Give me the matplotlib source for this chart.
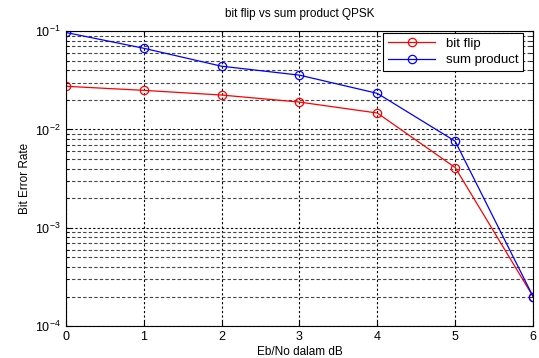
import matplotlib
matplotlib.use("Agg")
import matplotlib.pyplot as plt
from matplotlib.ticker import LogLocator

plt.rcParams['font.family'] = ['Liberation Sans', 'DejaVu Sans']
plt.rcParams['mathtext.fontset'] = 'custom'
plt.rcParams['mathtext.rm'] = 'Liberation Sans'

ebno = [0, 1, 2, 3, 4, 5, 6]
ber_bitflip = [0.0275, 0.025, 0.0224, 0.019, 0.0147, 0.0041, 0.0002]
ber_sumprod = [0.097, 0.067, 0.044, 0.0357, 0.0233, 0.0076, 0.0002]

fig = plt.figure(figsize=(5.39, 3.58), dpi=100)
ax = fig.add_axes([0.122, 0.089, 0.867, 0.824])

ax.semilogy(ebno, ber_bitflip, '-o', color='red', lw=0.9, ms=6,
            mfc='none', mew=0.9, label='bit flip')
ax.semilogy(ebno, ber_sumprod, '-o', color='blue', lw=0.9, ms=6,
            mfc='none', mew=0.9, label='sum product')

ax.set_xlim(0, 6)
ax.set_ylim(1e-4, 1e-1)
ax.yaxis.set_major_locator(LogLocator(base=10, numticks=10))
ax.yaxis.set_minor_locator(LogLocator(base=10, subs=range(2, 10), numticks=10))

ax.grid(True, which='major', color='black', ls=(0, (2, 2)), lw=0.8)
ax.grid(True, which='minor', axis='y', color='#444444', ls=(0, (3, 2)), lw=0.8)

ax.tick_params(which='both', direction='in', labelsize=9, top=True, right=True)
ax.tick_params(which='minor', length=2)
for s in ax.spines.values():
    s.set_linewidth(0.8)

ax.set_title('bit flip vs sum product QPSK', fontsize=8.5, pad=10)
ax.set_xlabel('Eb/No dalam dB', fontsize=8.5, labelpad=2)
ax.set_ylabel('Bit Error Rate', fontsize=8.5, labelpad=3)

leg = ax.legend(loc='upper right', bbox_to_anchor=(0.979, 0.993),
                borderaxespad=0, fontsize=9.5, fancybox=False, framealpha=1,
                edgecolor='black', handlelength=3.6, borderpad=0.35,
                labelspacing=0.3)
leg.get_frame().set_linewidth(0.8)

fig.savefig('out.png', dpi=100)
